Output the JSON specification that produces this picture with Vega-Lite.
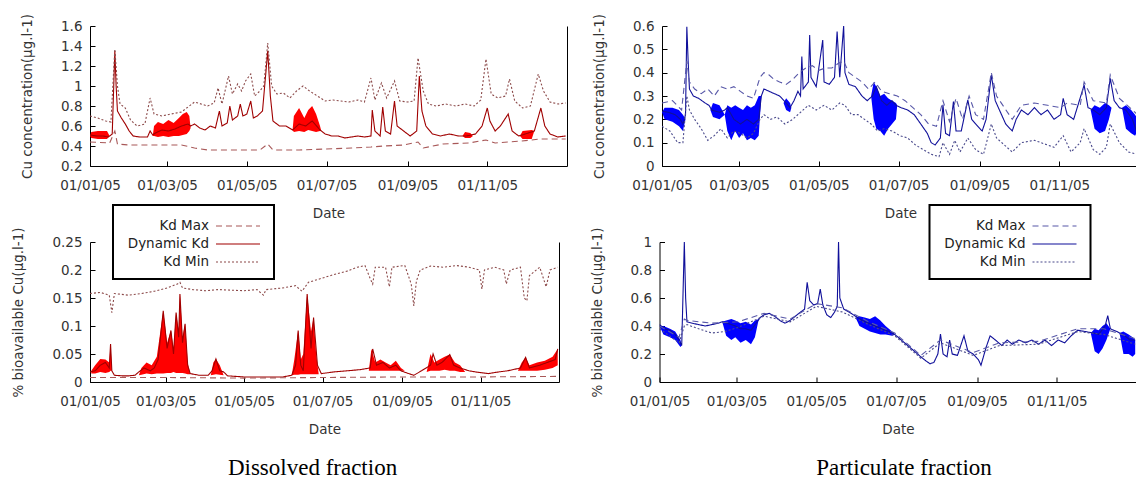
{
"$schema": "https://vega.github.io/schema/vega-lite/v6.json",
"padding": {"left": 11, "top": 13, "right": 0, "bottom": 0},
"background": "#ffffff",
"datasets": {
"tl": [
{"s":"Dynamic Kd","d":"2005-01-01","v":0.51},{"s":"Dynamic Kd","d":"2005-01-06","v":0.50},{"s":"Dynamic Kd","d":"2005-01-11","v":0.50},{"s":"Dynamic Kd","d":"2005-01-15","v":0.49},{"s":"Dynamic Kd","d":"2005-01-18","v":0.52},{"s":"Dynamic Kd","d":"2005-01-20","v":1.35},{"s":"Dynamic Kd","d":"2005-01-21","v":1.0},{"s":"Dynamic Kd","d":"2005-01-22","v":0.75},{"s":"Dynamic Kd","d":"2005-01-25","v":0.68},{"s":"Dynamic Kd","d":"2005-01-28","v":0.62},{"s":"Dynamic Kd","d":"2005-01-31","v":0.55},{"s":"Dynamic Kd","d":"2005-02-03","v":0.5},{"s":"Dynamic Kd","d":"2005-02-08","v":0.49},{"s":"Dynamic Kd","d":"2005-02-14","v":0.49},{"s":"Dynamic Kd","d":"2005-02-16","v":0.55},{"s":"Dynamic Kd","d":"2005-02-18","v":0.51},{"s":"Dynamic Kd","d":"2005-02-20","v":0.53},{"s":"Dynamic Kd","d":"2005-02-25","v":0.56},{"s":"Dynamic Kd","d":"2005-03-02","v":0.55},{"s":"Dynamic Kd","d":"2005-03-07","v":0.57},{"s":"Dynamic Kd","d":"2005-03-12","v":0.6},{"s":"Dynamic Kd","d":"2005-03-17","v":0.62},{"s":"Dynamic Kd","d":"2005-03-19","v":0.6},{"s":"Dynamic Kd","d":"2005-03-22","v":0.62},{"s":"Dynamic Kd","d":"2005-03-26","v":0.58},{"s":"Dynamic Kd","d":"2005-03-30","v":0.56},{"s":"Dynamic Kd","d":"2005-04-03","v":0.6},{"s":"Dynamic Kd","d":"2005-04-07","v":0.58},{"s":"Dynamic Kd","d":"2005-04-10","v":0.75},{"s":"Dynamic Kd","d":"2005-04-12","v":0.6},{"s":"Dynamic Kd","d":"2005-04-16","v":0.63},{"s":"Dynamic Kd","d":"2005-04-18","v":0.8},{"s":"Dynamic Kd","d":"2005-04-20","v":0.66},{"s":"Dynamic Kd","d":"2005-04-24","v":0.7},{"s":"Dynamic Kd","d":"2005-04-26","v":0.82},{"s":"Dynamic Kd","d":"2005-04-28","v":0.7},{"s":"Dynamic Kd","d":"2005-05-01","v":0.72},{"s":"Dynamic Kd","d":"2005-05-04","v":0.85},{"s":"Dynamic Kd","d":"2005-05-06","v":0.68},{"s":"Dynamic Kd","d":"2005-05-09","v":0.7},{"s":"Dynamic Kd","d":"2005-05-13","v":0.75},{"s":"Dynamic Kd","d":"2005-05-17","v":1.35},{"s":"Dynamic Kd","d":"2005-05-19","v":0.9},{"s":"Dynamic Kd","d":"2005-05-21","v":0.65},{"s":"Dynamic Kd","d":"2005-05-26","v":0.6},{"s":"Dynamic Kd","d":"2005-05-31","v":0.6},{"s":"Dynamic Kd","d":"2005-06-05","v":0.56},{"s":"Dynamic Kd","d":"2005-06-10","v":0.62},{"s":"Dynamic Kd","d":"2005-06-15","v":0.6},{"s":"Dynamic Kd","d":"2005-06-20","v":0.65},{"s":"Dynamic Kd","d":"2005-06-26","v":0.56},{"s":"Dynamic Kd","d":"2005-06-30","v":0.52},{"s":"Dynamic Kd","d":"2005-07-05","v":0.5},{"s":"Dynamic Kd","d":"2005-07-10","v":0.5},{"s":"Dynamic Kd","d":"2005-07-15","v":0.48},{"s":"Dynamic Kd","d":"2005-07-20","v":0.49},{"s":"Dynamic Kd","d":"2005-07-25","v":0.5},{"s":"Dynamic Kd","d":"2005-07-30","v":0.49},{"s":"Dynamic Kd","d":"2005-08-04","v":0.5},{"s":"Dynamic Kd","d":"2005-08-05","v":0.76},{"s":"Dynamic Kd","d":"2005-08-07","v":0.55},{"s":"Dynamic Kd","d":"2005-08-11","v":0.5},{"s":"Dynamic Kd","d":"2005-08-13","v":0.79},{"s":"Dynamic Kd","d":"2005-08-15","v":0.55},{"s":"Dynamic Kd","d":"2005-08-19","v":0.52},{"s":"Dynamic Kd","d":"2005-08-22","v":0.85},{"s":"Dynamic Kd","d":"2005-08-24","v":0.6},{"s":"Dynamic Kd","d":"2005-08-29","v":0.55},{"s":"Dynamic Kd","d":"2005-09-03","v":0.5},{"s":"Dynamic Kd","d":"2005-09-08","v":0.55},{"s":"Dynamic Kd","d":"2005-09-10","v":1.1},{"s":"Dynamic Kd","d":"2005-09-12","v":0.75},{"s":"Dynamic Kd","d":"2005-09-15","v":0.6},{"s":"Dynamic Kd","d":"2005-09-20","v":0.52},{"s":"Dynamic Kd","d":"2005-09-26","v":0.5},{"s":"Dynamic Kd","d":"2005-10-03","v":0.52},{"s":"Dynamic Kd","d":"2005-10-10","v":0.5},{"s":"Dynamic Kd","d":"2005-10-16","v":0.5},{"s":"Dynamic Kd","d":"2005-10-23","v":0.52},{"s":"Dynamic Kd","d":"2005-10-28","v":0.6},{"s":"Dynamic Kd","d":"2005-11-01","v":0.78},{"s":"Dynamic Kd","d":"2005-11-03","v":0.65},{"s":"Dynamic Kd","d":"2005-11-07","v":0.55},{"s":"Dynamic Kd","d":"2005-11-11","v":0.6},{"s":"Dynamic Kd","d":"2005-11-17","v":0.72},{"s":"Dynamic Kd","d":"2005-11-20","v":0.55},{"s":"Dynamic Kd","d":"2005-11-25","v":0.5},{"s":"Dynamic Kd","d":"2005-11-30","v":0.52},{"s":"Dynamic Kd","d":"2005-12-07","v":0.55},{"s":"Dynamic Kd","d":"2005-12-12","v":0.78},{"s":"Dynamic Kd","d":"2005-12-15","v":0.6},{"s":"Dynamic Kd","d":"2005-12-19","v":0.52},{"s":"Dynamic Kd","d":"2005-12-25","v":0.49},{"s":"Dynamic Kd","d":"2005-12-31","v":0.5},
{"s":"Kd Min","d":"2005-01-01","v":0.7},{"s":"Kd Min","d":"2005-01-07","v":0.68},{"s":"Kd Min","d":"2005-01-13","v":0.65},{"s":"Kd Min","d":"2005-01-17","v":0.64},{"s":"Kd Min","d":"2005-01-20","v":1.37},{"s":"Kd Min","d":"2005-01-22","v":1.0},{"s":"Kd Min","d":"2005-01-24","v":0.82},{"s":"Kd Min","d":"2005-01-28","v":0.78},{"s":"Kd Min","d":"2005-02-01","v":0.66},{"s":"Kd Min","d":"2005-02-06","v":0.6},{"s":"Kd Min","d":"2005-02-12","v":0.62},{"s":"Kd Min","d":"2005-02-16","v":0.88},{"s":"Kd Min","d":"2005-02-19","v":0.72},{"s":"Kd Min","d":"2005-02-25","v":0.7},{"s":"Kd Min","d":"2005-03-04","v":0.72},{"s":"Kd Min","d":"2005-03-12","v":0.74},{"s":"Kd Min","d":"2005-03-18","v":0.8},{"s":"Kd Min","d":"2005-03-22","v":0.84},{"s":"Kd Min","d":"2005-03-27","v":0.82},{"s":"Kd Min","d":"2005-04-01","v":0.8},{"s":"Kd Min","d":"2005-04-06","v":0.83},{"s":"Kd Min","d":"2005-04-09","v":0.98},{"s":"Kd Min","d":"2005-04-12","v":0.82},{"s":"Kd Min","d":"2005-04-17","v":1.1},{"s":"Kd Min","d":"2005-04-20","v":0.92},{"s":"Kd Min","d":"2005-04-24","v":1.02},{"s":"Kd Min","d":"2005-04-27","v":0.95},{"s":"Kd Min","d":"2005-04-30","v":1.05},{"s":"Kd Min","d":"2005-05-04","v":1.12},{"s":"Kd Min","d":"2005-05-07","v":0.9},{"s":"Kd Min","d":"2005-05-11","v":0.95},{"s":"Kd Min","d":"2005-05-14","v":1.0},{"s":"Kd Min","d":"2005-05-17","v":1.43},{"s":"Kd Min","d":"2005-05-20","v":1.0},{"s":"Kd Min","d":"2005-05-24","v":0.92},{"s":"Kd Min","d":"2005-05-29","v":0.93},{"s":"Kd Min","d":"2005-06-03","v":0.88},{"s":"Kd Min","d":"2005-06-08","v":0.95},{"s":"Kd Min","d":"2005-06-13","v":1.0},{"s":"Kd Min","d":"2005-06-18","v":0.95},{"s":"Kd Min","d":"2005-06-24","v":0.9},{"s":"Kd Min","d":"2005-06-30","v":0.85},{"s":"Kd Min","d":"2005-07-06","v":0.86},{"s":"Kd Min","d":"2005-07-12","v":0.85},{"s":"Kd Min","d":"2005-07-18","v":0.84},{"s":"Kd Min","d":"2005-07-25","v":0.86},{"s":"Kd Min","d":"2005-07-30","v":0.84},{"s":"Kd Min","d":"2005-08-04","v":1.08},{"s":"Kd Min","d":"2005-08-07","v":0.86},{"s":"Kd Min","d":"2005-08-12","v":1.03},{"s":"Kd Min","d":"2005-08-16","v":0.88},{"s":"Kd Min","d":"2005-08-22","v":1.05},{"s":"Kd Min","d":"2005-08-26","v":0.85},{"s":"Kd Min","d":"2005-09-01","v":0.84},{"s":"Kd Min","d":"2005-09-06","v":0.85},{"s":"Kd Min","d":"2005-09-09","v":1.28},{"s":"Kd Min","d":"2005-09-13","v":0.95},{"s":"Kd Min","d":"2005-09-17","v":0.82},{"s":"Kd Min","d":"2005-09-23","v":0.8},{"s":"Kd Min","d":"2005-09-30","v":0.82},{"s":"Kd Min","d":"2005-10-08","v":0.8},{"s":"Kd Min","d":"2005-10-15","v":0.82},{"s":"Kd Min","d":"2005-10-22","v":0.8},{"s":"Kd Min","d":"2005-10-27","v":0.86},{"s":"Kd Min","d":"2005-10-31","v":1.27},{"s":"Kd Min","d":"2005-11-04","v":0.92},{"s":"Kd Min","d":"2005-11-09","v":0.88},{"s":"Kd Min","d":"2005-11-15","v":0.9},{"s":"Kd Min","d":"2005-11-18","v":1.07},{"s":"Kd Min","d":"2005-11-22","v":0.85},{"s":"Kd Min","d":"2005-11-28","v":0.78},{"s":"Kd Min","d":"2005-12-04","v":0.8},{"s":"Kd Min","d":"2005-12-10","v":1.12},{"s":"Kd Min","d":"2005-12-14","v":0.95},{"s":"Kd Min","d":"2005-12-19","v":0.84},{"s":"Kd Min","d":"2005-12-25","v":0.82},{"s":"Kd Min","d":"2005-12-31","v":0.83},
{"s":"Kd Max","d":"2005-01-01","v":0.44},{"s":"Kd Max","d":"2005-01-16","v":0.43},{"s":"Kd Max","d":"2005-01-20","v":0.55},{"s":"Kd Max","d":"2005-01-22","v":0.42},{"s":"Kd Max","d":"2005-01-31","v":0.41},{"s":"Kd Max","d":"2005-02-20","v":0.41},{"s":"Kd Max","d":"2005-03-12","v":0.41},{"s":"Kd Max","d":"2005-03-22","v":0.38},{"s":"Kd Max","d":"2005-04-01","v":0.36},{"s":"Kd Max","d":"2005-04-21","v":0.36},{"s":"Kd Max","d":"2005-05-11","v":0.36},{"s":"Kd Max","d":"2005-05-17","v":0.42},{"s":"Kd Max","d":"2005-05-21","v":0.36},{"s":"Kd Max","d":"2005-06-10","v":0.36},{"s":"Kd Max","d":"2005-06-30","v":0.37},{"s":"Kd Max","d":"2005-07-20","v":0.38},{"s":"Kd Max","d":"2005-08-04","v":0.39},{"s":"Kd Max","d":"2005-08-14","v":0.4},{"s":"Kd Max","d":"2005-08-29","v":0.41},{"s":"Kd Max","d":"2005-09-09","v":0.44},{"s":"Kd Max","d":"2005-09-13","v":0.38},{"s":"Kd Max","d":"2005-09-28","v":0.42},{"s":"Kd Max","d":"2005-10-18","v":0.43},{"s":"Kd Max","d":"2005-10-31","v":0.46},{"s":"Kd Max","d":"2005-11-07","v":0.43},{"s":"Kd Max","d":"2005-11-27","v":0.45},{"s":"Kd Max","d":"2005-12-12","v":0.47},{"s":"Kd Max","d":"2005-12-31","v":0.47}
],
"tlb": [
{"d":"2005-01-01","lo":0.5,"hi":0.5},{"d":"2005-01-02","lo":0.48,"hi":0.54},{"d":"2005-01-07","lo":0.47,"hi":0.55},{"d":"2005-01-14","lo":0.47,"hi":0.55},{"d":"2005-01-16","lo":0.5,"hi":0.5},{"d":"2005-02-18","lo":0.5,"hi":0.5},{"d":"2005-02-19","lo":0.5,"hi":0.6},{"d":"2005-02-22","lo":0.49,"hi":0.64},{"d":"2005-02-26","lo":0.5,"hi":0.62},{"d":"2005-03-02","lo":0.49,"hi":0.66},{"d":"2005-03-06","lo":0.5,"hi":0.63},{"d":"2005-03-10","lo":0.5,"hi":0.68},{"d":"2005-03-13","lo":0.51,"hi":0.72},{"d":"2005-03-16","lo":0.52,"hi":0.74},{"d":"2005-03-18","lo":0.55,"hi":0.7},{"d":"2005-03-19","lo":0.58,"hi":0.58},{"d":"2005-06-05","lo":0.56,"hi":0.56},{"d":"2005-06-06","lo":0.54,"hi":0.7},{"d":"2005-06-10","lo":0.55,"hi":0.78},{"d":"2005-06-14","lo":0.54,"hi":0.68},{"d":"2005-06-17","lo":0.56,"hi":0.76},{"d":"2005-06-20","lo":0.55,"hi":0.8},{"d":"2005-06-23","lo":0.54,"hi":0.72},{"d":"2005-06-26","lo":0.55,"hi":0.6},{"d":"2005-06-27","lo":0.55,"hi":0.55},{"d":"2005-10-13","lo":0.5,"hi":0.5},{"d":"2005-10-15","lo":0.48,"hi":0.54},{"d":"2005-10-19","lo":0.48,"hi":0.53},{"d":"2005-10-21","lo":0.5,"hi":0.5},{"d":"2005-11-26","lo":0.5,"hi":0.5},{"d":"2005-11-28","lo":0.47,"hi":0.55},{"d":"2005-12-05","lo":0.47,"hi":0.56},{"d":"2005-12-07","lo":0.55,"hi":0.55}
],
"bl": [
{"s":"Dynamic Kd","d":"2005-01-01","v":0.018},{"s":"Dynamic Kd","d":"2005-01-05","v":0.02},{"s":"Dynamic Kd","d":"2005-01-09","v":0.03},{"s":"Dynamic Kd","d":"2005-01-13","v":0.035},{"s":"Dynamic Kd","d":"2005-01-16","v":0.025},{"s":"Dynamic Kd","d":"2005-01-17","v":0.068},{"s":"Dynamic Kd","d":"2005-01-18","v":0.02},{"s":"Dynamic Kd","d":"2005-01-20","v":0.012},{"s":"Dynamic Kd","d":"2005-01-26","v":0.011},{"s":"Dynamic Kd","d":"2005-01-31","v":0.011},{"s":"Dynamic Kd","d":"2005-02-05","v":0.012},{"s":"Dynamic Kd","d":"2005-02-08","v":0.018},{"s":"Dynamic Kd","d":"2005-02-12","v":0.025},{"s":"Dynamic Kd","d":"2005-02-17","v":0.02},{"s":"Dynamic Kd","d":"2005-02-20","v":0.025},{"s":"Dynamic Kd","d":"2005-02-23","v":0.04},{"s":"Dynamic Kd","d":"2005-02-27","v":0.127},{"s":"Dynamic Kd","d":"2005-03-02","v":0.06},{"s":"Dynamic Kd","d":"2005-03-05","v":0.092},{"s":"Dynamic Kd","d":"2005-03-07","v":0.05},{"s":"Dynamic Kd","d":"2005-03-09","v":0.124},{"s":"Dynamic Kd","d":"2005-03-11","v":0.08},{"s":"Dynamic Kd","d":"2005-03-12","v":0.157},{"s":"Dynamic Kd","d":"2005-03-14","v":0.07},{"s":"Dynamic Kd","d":"2005-03-16","v":0.104},{"s":"Dynamic Kd","d":"2005-03-18","v":0.03},{"s":"Dynamic Kd","d":"2005-03-20","v":0.015},{"s":"Dynamic Kd","d":"2005-03-27","v":0.012},{"s":"Dynamic Kd","d":"2005-04-03","v":0.012},{"s":"Dynamic Kd","d":"2005-04-06","v":0.02},{"s":"Dynamic Kd","d":"2005-04-09","v":0.041},{"s":"Dynamic Kd","d":"2005-04-12","v":0.02},{"s":"Dynamic Kd","d":"2005-04-15","v":0.018},{"s":"Dynamic Kd","d":"2005-04-18","v":0.011},{"s":"Dynamic Kd","d":"2005-05-01","v":0.009},{"s":"Dynamic Kd","d":"2005-05-16","v":0.009},{"s":"Dynamic Kd","d":"2005-05-31","v":0.009},{"s":"Dynamic Kd","d":"2005-06-07","v":0.012},{"s":"Dynamic Kd","d":"2005-06-10","v":0.03},{"s":"Dynamic Kd","d":"2005-06-12","v":0.092},{"s":"Dynamic Kd","d":"2005-06-14","v":0.03},{"s":"Dynamic Kd","d":"2005-06-16","v":0.02},{"s":"Dynamic Kd","d":"2005-06-19","v":0.157},{"s":"Dynamic Kd","d":"2005-06-22","v":0.06},{"s":"Dynamic Kd","d":"2005-06-24","v":0.115},{"s":"Dynamic Kd","d":"2005-06-27","v":0.03},{"s":"Dynamic Kd","d":"2005-06-30","v":0.015},{"s":"Dynamic Kd","d":"2005-07-10","v":0.018},{"s":"Dynamic Kd","d":"2005-07-20","v":0.02},{"s":"Dynamic Kd","d":"2005-07-30","v":0.022},{"s":"Dynamic Kd","d":"2005-08-07","v":0.025},{"s":"Dynamic Kd","d":"2005-08-09","v":0.059},{"s":"Dynamic Kd","d":"2005-08-12","v":0.03},{"s":"Dynamic Kd","d":"2005-08-17","v":0.035},{"s":"Dynamic Kd","d":"2005-08-22","v":0.025},{"s":"Dynamic Kd","d":"2005-08-27","v":0.03},{"s":"Dynamic Kd","d":"2005-08-31","v":0.02},{"s":"Dynamic Kd","d":"2005-09-06","v":0.015},{"s":"Dynamic Kd","d":"2005-09-10","v":0.012},{"s":"Dynamic Kd","d":"2005-09-16","v":0.02},{"s":"Dynamic Kd","d":"2005-09-23","v":0.03},{"s":"Dynamic Kd","d":"2005-09-25","v":0.05},{"s":"Dynamic Kd","d":"2005-09-28","v":0.03},{"s":"Dynamic Kd","d":"2005-10-02","v":0.035},{"s":"Dynamic Kd","d":"2005-10-08","v":0.049},{"s":"Dynamic Kd","d":"2005-10-11","v":0.03},{"s":"Dynamic Kd","d":"2005-10-16","v":0.025},{"s":"Dynamic Kd","d":"2005-10-23","v":0.02},{"s":"Dynamic Kd","d":"2005-10-28","v":0.018},{"s":"Dynamic Kd","d":"2005-11-07","v":0.015},{"s":"Dynamic Kd","d":"2005-11-15","v":0.018},{"s":"Dynamic Kd","d":"2005-11-22","v":0.02},{"s":"Dynamic Kd","d":"2005-12-02","v":0.025},{"s":"Dynamic Kd","d":"2005-12-06","v":0.044},{"s":"Dynamic Kd","d":"2005-12-09","v":0.025},{"s":"Dynamic Kd","d":"2005-12-17","v":0.03},{"s":"Dynamic Kd","d":"2005-12-23","v":0.035},{"s":"Dynamic Kd","d":"2005-12-29","v":0.04},{"s":"Dynamic Kd","d":"2005-12-31","v":0.059},
{"s":"Kd Min","d":"2005-01-01","v":0.158},{"s":"Kd Min","d":"2005-01-09","v":0.16},{"s":"Kd Min","d":"2005-01-16","v":0.155},{"s":"Kd Min","d":"2005-01-18","v":0.124},{"s":"Kd Min","d":"2005-01-20","v":0.158},{"s":"Kd Min","d":"2005-01-31","v":0.155},{"s":"Kd Min","d":"2005-02-10","v":0.158},{"s":"Kd Min","d":"2005-02-20","v":0.162},{"s":"Kd Min","d":"2005-03-02","v":0.168},{"s":"Kd Min","d":"2005-03-10","v":0.175},{"s":"Kd Min","d":"2005-03-12","v":0.178},{"s":"Kd Min","d":"2005-03-14","v":0.168},{"s":"Kd Min","d":"2005-03-22","v":0.165},{"s":"Kd Min","d":"2005-04-01","v":0.163},{"s":"Kd Min","d":"2005-04-11","v":0.165},{"s":"Kd Min","d":"2005-04-21","v":0.164},{"s":"Kd Min","d":"2005-05-01","v":0.163},{"s":"Kd Min","d":"2005-05-11","v":0.165},{"s":"Kd Min","d":"2005-05-16","v":0.155},{"s":"Kd Min","d":"2005-05-18","v":0.165},{"s":"Kd Min","d":"2005-05-31","v":0.168},{"s":"Kd Min","d":"2005-06-10","v":0.172},{"s":"Kd Min","d":"2005-06-15","v":0.162},{"s":"Kd Min","d":"2005-06-20","v":0.178},{"s":"Kd Min","d":"2005-06-30","v":0.185},{"s":"Kd Min","d":"2005-07-10","v":0.192},{"s":"Kd Min","d":"2005-07-20","v":0.198},{"s":"Kd Min","d":"2005-07-28","v":0.205},{"s":"Kd Min","d":"2005-08-03","v":0.208},{"s":"Kd Min","d":"2005-08-07","v":0.185},{"s":"Kd Min","d":"2005-08-09","v":0.175},{"s":"Kd Min","d":"2005-08-11","v":0.205},{"s":"Kd Min","d":"2005-08-19","v":0.205},{"s":"Kd Min","d":"2005-08-22","v":0.17},{"s":"Kd Min","d":"2005-08-24","v":0.205},{"s":"Kd Min","d":"2005-09-03","v":0.208},{"s":"Kd Min","d":"2005-09-08","v":0.175},{"s":"Kd Min","d":"2005-09-10","v":0.136},{"s":"Kd Min","d":"2005-09-12","v":0.18},{"s":"Kd Min","d":"2005-09-15","v":0.2},{"s":"Kd Min","d":"2005-09-23","v":0.207},{"s":"Kd Min","d":"2005-10-03","v":0.205},{"s":"Kd Min","d":"2005-10-13","v":0.208},{"s":"Kd Min","d":"2005-10-23","v":0.205},{"s":"Kd Min","d":"2005-10-31","v":0.2},{"s":"Kd Min","d":"2005-11-02","v":0.166},{"s":"Kd Min","d":"2005-11-04","v":0.2},{"s":"Kd Min","d":"2005-11-12","v":0.205},{"s":"Kd Min","d":"2005-11-19","v":0.2},{"s":"Kd Min","d":"2005-11-21","v":0.175},{"s":"Kd Min","d":"2005-11-24","v":0.2},{"s":"Kd Min","d":"2005-12-02","v":0.205},{"s":"Kd Min","d":"2005-12-05","v":0.15},{"s":"Kd Min","d":"2005-12-07","v":0.145},{"s":"Kd Min","d":"2005-12-09","v":0.19},{"s":"Kd Min","d":"2005-12-17","v":0.205},{"s":"Kd Min","d":"2005-12-22","v":0.17},{"s":"Kd Min","d":"2005-12-25","v":0.2},{"s":"Kd Min","d":"2005-12-31","v":0.205},
{"s":"Kd Max","d":"2005-01-01","v":0.008},{"s":"Kd Max","d":"2005-03-02","v":0.008},{"s":"Kd Max","d":"2005-05-01","v":0.007},{"s":"Kd Max","d":"2005-06-30","v":0.008},{"s":"Kd Max","d":"2005-08-29","v":0.009},{"s":"Kd Max","d":"2005-10-28","v":0.009},{"s":"Kd Max","d":"2005-12-31","v":0.01}
],
"blb": [
{"d":"2005-01-02","lo":0.015,"hi":0.02},{"d":"2005-01-05","lo":0.015,"hi":0.03},{"d":"2005-01-09","lo":0.018,"hi":0.041},{"d":"2005-01-13","lo":0.016,"hi":0.04},{"d":"2005-01-16","lo":0.018,"hi":0.035},{"d":"2005-01-17","lo":0.02,"hi":0.068},{"d":"2005-01-18","lo":0.02,"hi":0.02},
{"d":"2005-02-08","lo":0.012,"hi":0.012},{"d":"2005-02-10","lo":0.013,"hi":0.025},{"d":"2005-02-14","lo":0.015,"hi":0.035},{"d":"2005-02-18","lo":0.014,"hi":0.03},{"d":"2005-02-22","lo":0.015,"hi":0.045},{"d":"2005-02-27","lo":0.015,"hi":0.127},{"d":"2005-03-02","lo":0.016,"hi":0.07},{"d":"2005-03-05","lo":0.016,"hi":0.092},{"d":"2005-03-07","lo":0.018,"hi":0.06},{"d":"2005-03-09","lo":0.016,"hi":0.124},{"d":"2005-03-11","lo":0.016,"hi":0.09},{"d":"2005-03-12","lo":0.016,"hi":0.157},{"d":"2005-03-14","lo":0.016,"hi":0.08},{"d":"2005-03-16","lo":0.015,"hi":0.104},{"d":"2005-03-18","lo":0.014,"hi":0.035},{"d":"2005-03-20","lo":0.014,"hi":0.014},
{"d":"2005-04-05","lo":0.012,"hi":0.012},{"d":"2005-04-07","lo":0.013,"hi":0.035},{"d":"2005-04-09","lo":0.014,"hi":0.041},{"d":"2005-04-12","lo":0.013,"hi":0.03},{"d":"2005-04-15","lo":0.012,"hi":0.012},
{"d":"2005-06-07","lo":0.012,"hi":0.012},{"d":"2005-06-09","lo":0.013,"hi":0.04},{"d":"2005-06-12","lo":0.013,"hi":0.092},{"d":"2005-06-14","lo":0.014,"hi":0.04},{"d":"2005-06-16","lo":0.014,"hi":0.05},{"d":"2005-06-19","lo":0.014,"hi":0.157},{"d":"2005-06-22","lo":0.014,"hi":0.09},{"d":"2005-06-24","lo":0.014,"hi":0.115},{"d":"2005-06-26","lo":0.014,"hi":0.05},{"d":"2005-06-28","lo":0.014,"hi":0.014},
{"d":"2005-08-06","lo":0.02,"hi":0.02},{"d":"2005-08-08","lo":0.02,"hi":0.059},{"d":"2005-08-11","lo":0.02,"hi":0.035},{"d":"2005-08-15","lo":0.02,"hi":0.04},{"d":"2005-08-19","lo":0.02,"hi":0.035},{"d":"2005-08-23","lo":0.02,"hi":0.03},{"d":"2005-08-27","lo":0.02,"hi":0.038},{"d":"2005-08-31","lo":0.02,"hi":0.025},{"d":"2005-09-03","lo":0.02,"hi":0.02},
{"d":"2005-09-20","lo":0.018,"hi":0.018},{"d":"2005-09-23","lo":0.02,"hi":0.05},{"d":"2005-09-26","lo":0.02,"hi":0.035},{"d":"2005-09-30","lo":0.02,"hi":0.04},{"d":"2005-10-04","lo":0.022,"hi":0.045},{"d":"2005-10-08","lo":0.02,"hi":0.049},{"d":"2005-10-12","lo":0.02,"hi":0.035},{"d":"2005-10-16","lo":0.018,"hi":0.03},{"d":"2005-10-20","lo":0.018,"hi":0.018},
{"d":"2005-11-30","lo":0.02,"hi":0.02},{"d":"2005-12-03","lo":0.02,"hi":0.035},{"d":"2005-12-06","lo":0.02,"hi":0.044},{"d":"2005-12-09","lo":0.02,"hi":0.03},{"d":"2005-12-15","lo":0.02,"hi":0.035},{"d":"2005-12-21","lo":0.022,"hi":0.038},{"d":"2005-12-27","lo":0.025,"hi":0.045},{"d":"2005-12-31","lo":0.03,"hi":0.059}
],
"tr": [
{"s":"Dynamic Kd","d":"2005-01-01","v":0.235},{"s":"Dynamic Kd","d":"2005-01-06","v":0.23},{"s":"Dynamic Kd","d":"2005-01-11","v":0.22},{"s":"Dynamic Kd","d":"2005-01-15","v":0.2},{"s":"Dynamic Kd","d":"2005-01-17","v":0.18},{"s":"Dynamic Kd","d":"2005-01-19","v":0.22},{"s":"Dynamic Kd","d":"2005-01-20","v":0.597},{"s":"Dynamic Kd","d":"2005-01-21","v":0.45},{"s":"Dynamic Kd","d":"2005-01-22","v":0.33},{"s":"Dynamic Kd","d":"2005-01-25","v":0.3},{"s":"Dynamic Kd","d":"2005-01-29","v":0.29},{"s":"Dynamic Kd","d":"2005-02-03","v":0.27},{"s":"Dynamic Kd","d":"2005-02-06","v":0.26},{"s":"Dynamic Kd","d":"2005-02-08","v":0.24},{"s":"Dynamic Kd","d":"2005-02-14","v":0.23},{"s":"Dynamic Kd","d":"2005-02-18","v":0.24},{"s":"Dynamic Kd","d":"2005-02-20","v":0.25},{"s":"Dynamic Kd","d":"2005-02-25","v":0.2},{"s":"Dynamic Kd","d":"2005-03-02","v":0.18},{"s":"Dynamic Kd","d":"2005-03-07","v":0.2},{"s":"Dynamic Kd","d":"2005-03-12","v":0.18},{"s":"Dynamic Kd","d":"2005-03-16","v":0.2},{"s":"Dynamic Kd","d":"2005-03-18","v":0.3},{"s":"Dynamic Kd","d":"2005-03-20","v":0.33},{"s":"Dynamic Kd","d":"2005-03-24","v":0.32},{"s":"Dynamic Kd","d":"2005-03-28","v":0.31},{"s":"Dynamic Kd","d":"2005-04-01","v":0.3},{"s":"Dynamic Kd","d":"2005-04-06","v":0.27},{"s":"Dynamic Kd","d":"2005-04-09","v":0.25},{"s":"Dynamic Kd","d":"2005-04-12","v":0.28},{"s":"Dynamic Kd","d":"2005-04-15","v":0.32},{"s":"Dynamic Kd","d":"2005-04-17","v":0.3},{"s":"Dynamic Kd","d":"2005-04-18","v":0.469},{"s":"Dynamic Kd","d":"2005-04-19","v":0.33},{"s":"Dynamic Kd","d":"2005-04-23","v":0.36},{"s":"Dynamic Kd","d":"2005-04-24","v":0.561},{"s":"Dynamic Kd","d":"2005-04-25","v":0.38},{"s":"Dynamic Kd","d":"2005-04-29","v":0.34},{"s":"Dynamic Kd","d":"2005-05-04","v":0.54},{"s":"Dynamic Kd","d":"2005-05-05","v":0.36},{"s":"Dynamic Kd","d":"2005-05-09","v":0.35},{"s":"Dynamic Kd","d":"2005-05-13","v":0.38},{"s":"Dynamic Kd","d":"2005-05-15","v":0.576},{"s":"Dynamic Kd","d":"2005-05-17","v":0.38},{"s":"Dynamic Kd","d":"2005-05-20","v":0.6},{"s":"Dynamic Kd","d":"2005-05-21","v":0.4},{"s":"Dynamic Kd","d":"2005-05-24","v":0.35},{"s":"Dynamic Kd","d":"2005-05-29","v":0.34},{"s":"Dynamic Kd","d":"2005-06-03","v":0.3},{"s":"Dynamic Kd","d":"2005-06-07","v":0.28},{"s":"Dynamic Kd","d":"2005-06-11","v":0.3},{"s":"Dynamic Kd","d":"2005-06-14","v":0.34},{"s":"Dynamic Kd","d":"2005-06-18","v":0.28},{"s":"Dynamic Kd","d":"2005-06-22","v":0.26},{"s":"Dynamic Kd","d":"2005-06-26","v":0.28},{"s":"Dynamic Kd","d":"2005-06-29","v":0.26},{"s":"Dynamic Kd","d":"2005-07-03","v":0.25},{"s":"Dynamic Kd","d":"2005-07-08","v":0.24},{"s":"Dynamic Kd","d":"2005-07-13","v":0.22},{"s":"Dynamic Kd","d":"2005-07-18","v":0.18},{"s":"Dynamic Kd","d":"2005-07-23","v":0.14},{"s":"Dynamic Kd","d":"2005-07-26","v":0.1},{"s":"Dynamic Kd","d":"2005-07-29","v":0.09},{"s":"Dynamic Kd","d":"2005-08-02","v":0.12},{"s":"Dynamic Kd","d":"2005-08-04","v":0.262},{"s":"Dynamic Kd","d":"2005-08-06","v":0.14},{"s":"Dynamic Kd","d":"2005-08-09","v":0.13},{"s":"Dynamic Kd","d":"2005-08-12","v":0.276},{"s":"Dynamic Kd","d":"2005-08-14","v":0.15},{"s":"Dynamic Kd","d":"2005-08-18","v":0.15},{"s":"Dynamic Kd","d":"2005-08-23","v":0.283},{"s":"Dynamic Kd","d":"2005-08-26","v":0.2},{"s":"Dynamic Kd","d":"2005-08-29","v":0.18},{"s":"Dynamic Kd","d":"2005-09-03","v":0.15},{"s":"Dynamic Kd","d":"2005-09-06","v":0.2},{"s":"Dynamic Kd","d":"2005-09-10","v":0.39},{"s":"Dynamic Kd","d":"2005-09-13","v":0.28},{"s":"Dynamic Kd","d":"2005-09-17","v":0.23},{"s":"Dynamic Kd","d":"2005-09-21","v":0.18},{"s":"Dynamic Kd","d":"2005-09-26","v":0.15},{"s":"Dynamic Kd","d":"2005-09-29","v":0.2},{"s":"Dynamic Kd","d":"2005-10-03","v":0.24},{"s":"Dynamic Kd","d":"2005-10-08","v":0.22},{"s":"Dynamic Kd","d":"2005-10-13","v":0.25},{"s":"Dynamic Kd","d":"2005-10-18","v":0.22},{"s":"Dynamic Kd","d":"2005-10-23","v":0.24},{"s":"Dynamic Kd","d":"2005-10-28","v":0.2},{"s":"Dynamic Kd","d":"2005-11-02","v":0.22},{"s":"Dynamic Kd","d":"2005-11-04","v":0.29},{"s":"Dynamic Kd","d":"2005-11-07","v":0.22},{"s":"Dynamic Kd","d":"2005-11-12","v":0.2},{"s":"Dynamic Kd","d":"2005-11-20","v":0.347},{"s":"Dynamic Kd","d":"2005-11-23","v":0.25},{"s":"Dynamic Kd","d":"2005-11-27","v":0.24},{"s":"Dynamic Kd","d":"2005-12-02","v":0.22},{"s":"Dynamic Kd","d":"2005-12-07","v":0.25},{"s":"Dynamic Kd","d":"2005-12-10","v":0.376},{"s":"Dynamic Kd","d":"2005-12-13","v":0.28},{"s":"Dynamic Kd","d":"2005-12-17","v":0.25},{"s":"Dynamic Kd","d":"2005-12-22","v":0.24},{"s":"Dynamic Kd","d":"2005-12-27","v":0.2},{"s":"Dynamic Kd","d":"2005-12-30","v":0.15},{"s":"Dynamic Kd","d":"2005-12-31","v":0.2},
{"s":"Kd Max","d":"2005-01-01","v":0.27},{"s":"Kd Max","d":"2005-01-09","v":0.28},{"s":"Kd Max","d":"2005-01-16","v":0.24},{"s":"Kd Max","d":"2005-01-20","v":0.45},{"s":"Kd Max","d":"2005-01-22","v":0.36},{"s":"Kd Max","d":"2005-01-26","v":0.33},{"s":"Kd Max","d":"2005-01-31","v":0.31},{"s":"Kd Max","d":"2005-02-05","v":0.33},{"s":"Kd Max","d":"2005-02-10","v":0.3},{"s":"Kd Max","d":"2005-02-15","v":0.34},{"s":"Kd Max","d":"2005-02-20","v":0.33},{"s":"Kd Max","d":"2005-02-25","v":0.34},{"s":"Kd Max","d":"2005-03-02","v":0.32},{"s":"Kd Max","d":"2005-03-07","v":0.3},{"s":"Kd Max","d":"2005-03-12","v":0.29},{"s":"Kd Max","d":"2005-03-17","v":0.38},{"s":"Kd Max","d":"2005-03-20","v":0.4},{"s":"Kd Max","d":"2005-03-24","v":0.39},{"s":"Kd Max","d":"2005-03-28","v":0.37},{"s":"Kd Max","d":"2005-04-01","v":0.36},{"s":"Kd Max","d":"2005-04-06","v":0.35},{"s":"Kd Max","d":"2005-04-11","v":0.37},{"s":"Kd Max","d":"2005-04-16","v":0.4},{"s":"Kd Max","d":"2005-04-21","v":0.42},{"s":"Kd Max","d":"2005-04-26","v":0.43},{"s":"Kd Max","d":"2005-05-01","v":0.41},{"s":"Kd Max","d":"2005-05-06","v":0.42},{"s":"Kd Max","d":"2005-05-11","v":0.42},{"s":"Kd Max","d":"2005-05-16","v":0.44},{"s":"Kd Max","d":"2005-05-20","v":0.45},{"s":"Kd Max","d":"2005-05-24","v":0.4},{"s":"Kd Max","d":"2005-05-29","v":0.38},{"s":"Kd Max","d":"2005-06-03","v":0.36},{"s":"Kd Max","d":"2005-06-08","v":0.33},{"s":"Kd Max","d":"2005-06-13","v":0.36},{"s":"Kd Max","d":"2005-06-18","v":0.32},{"s":"Kd Max","d":"2005-06-24","v":0.31},{"s":"Kd Max","d":"2005-06-30","v":0.3},{"s":"Kd Max","d":"2005-07-06","v":0.28},{"s":"Kd Max","d":"2005-07-12","v":0.25},{"s":"Kd Max","d":"2005-07-18","v":0.22},{"s":"Kd Max","d":"2005-07-24","v":0.18},{"s":"Kd Max","d":"2005-07-30","v":0.17},{"s":"Kd Max","d":"2005-08-04","v":0.28},{"s":"Kd Max","d":"2005-08-09","v":0.19},{"s":"Kd Max","d":"2005-08-14","v":0.29},{"s":"Kd Max","d":"2005-08-19","v":0.2},{"s":"Kd Max","d":"2005-08-24","v":0.3},{"s":"Kd Max","d":"2005-08-29","v":0.22},{"s":"Kd Max","d":"2005-09-04","v":0.2},{"s":"Kd Max","d":"2005-09-10","v":0.4},{"s":"Kd Max","d":"2005-09-14","v":0.3},{"s":"Kd Max","d":"2005-09-20","v":0.25},{"s":"Kd Max","d":"2005-09-26","v":0.2},{"s":"Kd Max","d":"2005-10-03","v":0.26},{"s":"Kd Max","d":"2005-10-13","v":0.27},{"s":"Kd Max","d":"2005-10-23","v":0.26},{"s":"Kd Max","d":"2005-11-02","v":0.25},{"s":"Kd Max","d":"2005-11-07","v":0.27},{"s":"Kd Max","d":"2005-11-17","v":0.26},{"s":"Kd Max","d":"2005-11-20","v":0.36},{"s":"Kd Max","d":"2005-11-27","v":0.28},{"s":"Kd Max","d":"2005-12-07","v":0.27},{"s":"Kd Max","d":"2005-12-10","v":0.39},{"s":"Kd Max","d":"2005-12-17","v":0.29},{"s":"Kd Max","d":"2005-12-25","v":0.25},{"s":"Kd Max","d":"2005-12-31","v":0.22},
{"s":"Kd Min","d":"2005-01-01","v":0.17},{"s":"Kd Min","d":"2005-01-07","v":0.15},{"s":"Kd Min","d":"2005-01-13","v":0.1},{"s":"Kd Min","d":"2005-01-17","v":0.1},{"s":"Kd Min","d":"2005-01-20","v":0.3},{"s":"Kd Min","d":"2005-01-22","v":0.24},{"s":"Kd Min","d":"2005-01-26","v":0.2},{"s":"Kd Min","d":"2005-01-31","v":0.16},{"s":"Kd Min","d":"2005-02-05","v":0.11},{"s":"Kd Min","d":"2005-02-10","v":0.13},{"s":"Kd Min","d":"2005-02-15","v":0.16},{"s":"Kd Min","d":"2005-02-20","v":0.12},{"s":"Kd Min","d":"2005-02-25","v":0.15},{"s":"Kd Min","d":"2005-03-02","v":0.14},{"s":"Kd Min","d":"2005-03-07","v":0.12},{"s":"Kd Min","d":"2005-03-12","v":0.14},{"s":"Kd Min","d":"2005-03-17","v":0.2},{"s":"Kd Min","d":"2005-03-20","v":0.22},{"s":"Kd Min","d":"2005-03-25","v":0.2},{"s":"Kd Min","d":"2005-03-30","v":0.21},{"s":"Kd Min","d":"2005-04-05","v":0.18},{"s":"Kd Min","d":"2005-04-11","v":0.2},{"s":"Kd Min","d":"2005-04-17","v":0.23},{"s":"Kd Min","d":"2005-04-23","v":0.26},{"s":"Kd Min","d":"2005-04-29","v":0.24},{"s":"Kd Min","d":"2005-05-05","v":0.26},{"s":"Kd Min","d":"2005-05-11","v":0.24},{"s":"Kd Min","d":"2005-05-17","v":0.27},{"s":"Kd Min","d":"2005-05-21","v":0.26},{"s":"Kd Min","d":"2005-05-26","v":0.22},{"s":"Kd Min","d":"2005-05-31","v":0.22},{"s":"Kd Min","d":"2005-06-05","v":0.2},{"s":"Kd Min","d":"2005-06-10","v":0.18},{"s":"Kd Min","d":"2005-06-15","v":0.15},{"s":"Kd Min","d":"2005-06-20","v":0.16},{"s":"Kd Min","d":"2005-06-26","v":0.15},{"s":"Kd Min","d":"2005-07-02","v":0.13},{"s":"Kd Min","d":"2005-07-08","v":0.12},{"s":"Kd Min","d":"2005-07-14","v":0.09},{"s":"Kd Min","d":"2005-07-20","v":0.07},{"s":"Kd Min","d":"2005-07-26","v":0.05},{"s":"Kd Min","d":"2005-08-01","v":0.04},{"s":"Kd Min","d":"2005-08-04","v":0.1},{"s":"Kd Min","d":"2005-08-09","v":0.05},{"s":"Kd Min","d":"2005-08-13","v":0.11},{"s":"Kd Min","d":"2005-08-17","v":0.06},{"s":"Kd Min","d":"2005-08-23","v":0.12},{"s":"Kd Min","d":"2005-08-29","v":0.07},{"s":"Kd Min","d":"2005-09-04","v":0.05},{"s":"Kd Min","d":"2005-09-10","v":0.18},{"s":"Kd Min","d":"2005-09-14","v":0.12},{"s":"Kd Min","d":"2005-09-20","v":0.09},{"s":"Kd Min","d":"2005-09-26","v":0.06},{"s":"Kd Min","d":"2005-10-03","v":0.1},{"s":"Kd Min","d":"2005-10-13","v":0.11},{"s":"Kd Min","d":"2005-10-23","v":0.09},{"s":"Kd Min","d":"2005-10-28","v":0.08},{"s":"Kd Min","d":"2005-11-04","v":0.13},{"s":"Kd Min","d":"2005-11-10","v":0.06},{"s":"Kd Min","d":"2005-11-17","v":0.1},{"s":"Kd Min","d":"2005-11-20","v":0.16},{"s":"Kd Min","d":"2005-11-27","v":0.07},{"s":"Kd Min","d":"2005-12-02","v":0.05},{"s":"Kd Min","d":"2005-12-07","v":0.08},{"s":"Kd Min","d":"2005-12-10","v":0.18},{"s":"Kd Min","d":"2005-12-17","v":0.1},{"s":"Kd Min","d":"2005-12-24","v":0.06},{"s":"Kd Min","d":"2005-12-31","v":0.05}
],
"trb": [
{"d":"2005-01-01","lo":0.23,"hi":0.23},{"d":"2005-01-03","lo":0.2,"hi":0.25},{"d":"2005-01-09","lo":0.19,"hi":0.25},{"d":"2005-01-14","lo":0.17,"hi":0.24},{"d":"2005-01-17","lo":0.15,"hi":0.22},{"d":"2005-01-19","lo":0.2,"hi":0.2},
{"d":"2005-02-07","lo":0.24,"hi":0.24},{"d":"2005-02-09","lo":0.21,"hi":0.27},{"d":"2005-02-14","lo":0.2,"hi":0.26},{"d":"2005-02-18","lo":0.22,"hi":0.22},{"d":"2005-02-20","lo":0.15,"hi":0.26},{"d":"2005-02-23","lo":0.11,"hi":0.25},{"d":"2005-02-26","lo":0.15,"hi":0.26},{"d":"2005-03-01","lo":0.12,"hi":0.25},{"d":"2005-03-04","lo":0.14,"hi":0.24},{"d":"2005-03-07","lo":0.11,"hi":0.26},{"d":"2005-03-10","lo":0.12,"hi":0.25},{"d":"2005-03-13","lo":0.11,"hi":0.26},{"d":"2005-03-16","lo":0.13,"hi":0.3},{"d":"2005-03-18","lo":0.3,"hi":0.3},
{"d":"2005-04-04","lo":0.27,"hi":0.27},{"d":"2005-04-06","lo":0.24,"hi":0.29},{"d":"2005-04-09","lo":0.23,"hi":0.27},{"d":"2005-04-10","lo":0.25,"hi":0.25},
{"d":"2005-06-10","lo":0.3,"hi":0.3},{"d":"2005-06-12","lo":0.2,"hi":0.36},{"d":"2005-06-14","lo":0.16,"hi":0.34},{"d":"2005-06-17","lo":0.15,"hi":0.3},{"d":"2005-06-20","lo":0.13,"hi":0.31},{"d":"2005-06-23","lo":0.16,"hi":0.29},{"d":"2005-06-26","lo":0.18,"hi":0.28},{"d":"2005-06-29","lo":0.2,"hi":0.27},{"d":"2005-06-30","lo":0.26,"hi":0.26},
{"d":"2005-11-25","lo":0.24,"hi":0.24},{"d":"2005-11-28","lo":0.16,"hi":0.26},{"d":"2005-12-02","lo":0.14,"hi":0.25},{"d":"2005-12-06","lo":0.15,"hi":0.27},{"d":"2005-12-09","lo":0.2,"hi":0.26},{"d":"2005-12-11","lo":0.25,"hi":0.25},
{"d":"2005-12-19","lo":0.25,"hi":0.25},{"d":"2005-12-22","lo":0.16,"hi":0.26},{"d":"2005-12-26","lo":0.14,"hi":0.24},{"d":"2005-12-29","lo":0.13,"hi":0.22},{"d":"2005-12-31","lo":0.15,"hi":0.2}
],
"br": [
{"s":"Dynamic Kd","d":"2005-01-01","v":0.41},{"s":"Dynamic Kd","d":"2005-01-05","v":0.38},{"s":"Dynamic Kd","d":"2005-01-09","v":0.37},{"s":"Dynamic Kd","d":"2005-01-13","v":0.34},{"s":"Dynamic Kd","d":"2005-01-16","v":0.3},{"s":"Dynamic Kd","d":"2005-01-18","v":0.26},{"s":"Dynamic Kd","d":"2005-01-20","v":1.0},{"s":"Dynamic Kd","d":"2005-01-21","v":0.6},{"s":"Dynamic Kd","d":"2005-01-22","v":0.43},{"s":"Dynamic Kd","d":"2005-01-26","v":0.42},{"s":"Dynamic Kd","d":"2005-01-31","v":0.41},{"s":"Dynamic Kd","d":"2005-02-05","v":0.4},{"s":"Dynamic Kd","d":"2005-02-10","v":0.41},{"s":"Dynamic Kd","d":"2005-02-15","v":0.42},{"s":"Dynamic Kd","d":"2005-02-18","v":0.43},{"s":"Dynamic Kd","d":"2005-02-22","v":0.42},{"s":"Dynamic Kd","d":"2005-02-28","v":0.4},{"s":"Dynamic Kd","d":"2005-03-04","v":0.38},{"s":"Dynamic Kd","d":"2005-03-08","v":0.38},{"s":"Dynamic Kd","d":"2005-03-12","v":0.37},{"s":"Dynamic Kd","d":"2005-03-16","v":0.42},{"s":"Dynamic Kd","d":"2005-03-19","v":0.46},{"s":"Dynamic Kd","d":"2005-03-22","v":0.48},{"s":"Dynamic Kd","d":"2005-03-26","v":0.49},{"s":"Dynamic Kd","d":"2005-03-30","v":0.47},{"s":"Dynamic Kd","d":"2005-04-03","v":0.44},{"s":"Dynamic Kd","d":"2005-04-07","v":0.42},{"s":"Dynamic Kd","d":"2005-04-11","v":0.44},{"s":"Dynamic Kd","d":"2005-04-15","v":0.47},{"s":"Dynamic Kd","d":"2005-04-19","v":0.5},{"s":"Dynamic Kd","d":"2005-04-22","v":0.52},{"s":"Dynamic Kd","d":"2005-04-24","v":0.712},{"s":"Dynamic Kd","d":"2005-04-26","v":0.58},{"s":"Dynamic Kd","d":"2005-04-29","v":0.55},{"s":"Dynamic Kd","d":"2005-05-02","v":0.56},{"s":"Dynamic Kd","d":"2005-05-04","v":0.664},{"s":"Dynamic Kd","d":"2005-05-06","v":0.55},{"s":"Dynamic Kd","d":"2005-05-09","v":0.48},{"s":"Dynamic Kd","d":"2005-05-12","v":0.46},{"s":"Dynamic Kd","d":"2005-05-15","v":0.5},{"s":"Dynamic Kd","d":"2005-05-17","v":0.54},{"s":"Dynamic Kd","d":"2005-05-18","v":1.0},{"s":"Dynamic Kd","d":"2005-05-19","v":0.6},{"s":"Dynamic Kd","d":"2005-05-22","v":0.52},{"s":"Dynamic Kd","d":"2005-05-26","v":0.5},{"s":"Dynamic Kd","d":"2005-05-31","v":0.47},{"s":"Dynamic Kd","d":"2005-06-05","v":0.44},{"s":"Dynamic Kd","d":"2005-06-10","v":0.42},{"s":"Dynamic Kd","d":"2005-06-15","v":0.4},{"s":"Dynamic Kd","d":"2005-06-20","v":0.38},{"s":"Dynamic Kd","d":"2005-06-26","v":0.36},{"s":"Dynamic Kd","d":"2005-06-30","v":0.34},{"s":"Dynamic Kd","d":"2005-07-05","v":0.3},{"s":"Dynamic Kd","d":"2005-07-10","v":0.26},{"s":"Dynamic Kd","d":"2005-07-15","v":0.22},{"s":"Dynamic Kd","d":"2005-07-20","v":0.18},{"s":"Dynamic Kd","d":"2005-07-24","v":0.15},{"s":"Dynamic Kd","d":"2005-07-27","v":0.13},{"s":"Dynamic Kd","d":"2005-07-30","v":0.14},{"s":"Dynamic Kd","d":"2005-08-02","v":0.2},{"s":"Dynamic Kd","d":"2005-08-04","v":0.343},{"s":"Dynamic Kd","d":"2005-08-06","v":0.2},{"s":"Dynamic Kd","d":"2005-08-09","v":0.18},{"s":"Dynamic Kd","d":"2005-08-11","v":0.3},{"s":"Dynamic Kd","d":"2005-08-13","v":0.2},{"s":"Dynamic Kd","d":"2005-08-17","v":0.19},{"s":"Dynamic Kd","d":"2005-08-22","v":0.33},{"s":"Dynamic Kd","d":"2005-08-25","v":0.22},{"s":"Dynamic Kd","d":"2005-08-29","v":0.2},{"s":"Dynamic Kd","d":"2005-09-02","v":0.16},{"s":"Dynamic Kd","d":"2005-09-04","v":0.12},{"s":"Dynamic Kd","d":"2005-09-08","v":0.25},{"s":"Dynamic Kd","d":"2005-09-11","v":0.33},{"s":"Dynamic Kd","d":"2005-09-15","v":0.3},{"s":"Dynamic Kd","d":"2005-09-20","v":0.26},{"s":"Dynamic Kd","d":"2005-09-24","v":0.3},{"s":"Dynamic Kd","d":"2005-09-28","v":0.27},{"s":"Dynamic Kd","d":"2005-10-03","v":0.3},{"s":"Dynamic Kd","d":"2005-10-08","v":0.28},{"s":"Dynamic Kd","d":"2005-10-13","v":0.3},{"s":"Dynamic Kd","d":"2005-10-18","v":0.27},{"s":"Dynamic Kd","d":"2005-10-23","v":0.3},{"s":"Dynamic Kd","d":"2005-10-28","v":0.26},{"s":"Dynamic Kd","d":"2005-11-02","v":0.3},{"s":"Dynamic Kd","d":"2005-11-07","v":0.28},{"s":"Dynamic Kd","d":"2005-11-12","v":0.33},{"s":"Dynamic Kd","d":"2005-11-17","v":0.37},{"s":"Dynamic Kd","d":"2005-11-23","v":0.36},{"s":"Dynamic Kd","d":"2005-11-29","v":0.35},{"s":"Dynamic Kd","d":"2005-12-03","v":0.34},{"s":"Dynamic Kd","d":"2005-12-08","v":0.4},{"s":"Dynamic Kd","d":"2005-12-10","v":0.474},{"s":"Dynamic Kd","d":"2005-12-12","v":0.38},{"s":"Dynamic Kd","d":"2005-12-17","v":0.36},{"s":"Dynamic Kd","d":"2005-12-23","v":0.33},{"s":"Dynamic Kd","d":"2005-12-27","v":0.3},{"s":"Dynamic Kd","d":"2005-12-31","v":0.3},
{"s":"Kd Max","d":"2005-01-01","v":0.4},{"s":"Kd Max","d":"2005-01-16","v":0.32},{"s":"Kd Max","d":"2005-01-20","v":0.45},{"s":"Kd Max","d":"2005-01-22","v":0.44},{"s":"Kd Max","d":"2005-02-10","v":0.42},{"s":"Kd Max","d":"2005-03-02","v":0.43},{"s":"Kd Max","d":"2005-03-22","v":0.49},{"s":"Kd Max","d":"2005-04-11","v":0.45},{"s":"Kd Max","d":"2005-05-01","v":0.56},{"s":"Kd Max","d":"2005-05-21","v":0.53},{"s":"Kd Max","d":"2005-06-10","v":0.43},{"s":"Kd Max","d":"2005-06-30","v":0.35},{"s":"Kd Max","d":"2005-07-20","v":0.19},{"s":"Kd Max","d":"2005-08-04","v":0.3},{"s":"Kd Max","d":"2005-08-29","v":0.21},{"s":"Kd Max","d":"2005-09-18","v":0.28},{"s":"Kd Max","d":"2005-10-18","v":0.29},{"s":"Kd Max","d":"2005-11-17","v":0.38},{"s":"Kd Max","d":"2005-12-07","v":0.38},{"s":"Kd Max","d":"2005-12-31","v":0.31},
{"s":"Kd Min","d":"2005-01-01","v":0.38},{"s":"Kd Min","d":"2005-01-16","v":0.28},{"s":"Kd Min","d":"2005-01-20","v":0.4},{"s":"Kd Min","d":"2005-01-22","v":0.41},{"s":"Kd Min","d":"2005-01-31","v":0.38},{"s":"Kd Min","d":"2005-02-10","v":0.35},{"s":"Kd Min","d":"2005-02-20","v":0.36},{"s":"Kd Min","d":"2005-03-02","v":0.39},{"s":"Kd Min","d":"2005-03-22","v":0.47},{"s":"Kd Min","d":"2005-04-11","v":0.43},{"s":"Kd Min","d":"2005-05-01","v":0.54},{"s":"Kd Min","d":"2005-05-21","v":0.5},{"s":"Kd Min","d":"2005-06-10","v":0.41},{"s":"Kd Min","d":"2005-06-30","v":0.33},{"s":"Kd Min","d":"2005-07-20","v":0.17},{"s":"Kd Min","d":"2005-08-04","v":0.28},{"s":"Kd Min","d":"2005-08-29","v":0.19},{"s":"Kd Min","d":"2005-09-18","v":0.26},{"s":"Kd Min","d":"2005-10-18","v":0.27},{"s":"Kd Min","d":"2005-11-17","v":0.36},{"s":"Kd Min","d":"2005-12-07","v":0.34},{"s":"Kd Min","d":"2005-12-31","v":0.27}
],
"brb": [
{"d":"2005-01-01","lo":0.4,"hi":0.4},{"d":"2005-01-04","lo":0.34,"hi":0.4},{"d":"2005-01-09","lo":0.32,"hi":0.38},{"d":"2005-01-13","lo":0.3,"hi":0.36},{"d":"2005-01-17","lo":0.25,"hi":0.3},{"d":"2005-01-18","lo":0.26,"hi":0.26},
{"d":"2005-02-18","lo":0.43,"hi":0.43},{"d":"2005-02-21","lo":0.33,"hi":0.44},{"d":"2005-02-25","lo":0.3,"hi":0.45},{"d":"2005-02-28","lo":0.32,"hi":0.44},{"d":"2005-03-04","lo":0.28,"hi":0.42},{"d":"2005-03-08","lo":0.3,"hi":0.43},{"d":"2005-03-12","lo":0.27,"hi":0.41},{"d":"2005-03-15","lo":0.32,"hi":0.44},{"d":"2005-03-18","lo":0.45,"hi":0.45},
{"d":"2005-05-31","lo":0.46,"hi":0.46},{"d":"2005-06-03","lo":0.4,"hi":0.47},{"d":"2005-06-07","lo":0.38,"hi":0.46},{"d":"2005-06-11","lo":0.36,"hi":0.45},{"d":"2005-06-15","lo":0.35,"hi":0.47},{"d":"2005-06-19","lo":0.34,"hi":0.44},{"d":"2005-06-23","lo":0.34,"hi":0.4},{"d":"2005-06-28","lo":0.33,"hi":0.36},{"d":"2005-06-30","lo":0.34,"hi":0.34},
{"d":"2005-11-27","lo":0.35,"hi":0.35},{"d":"2005-11-30","lo":0.22,"hi":0.38},{"d":"2005-12-03","lo":0.2,"hi":0.37},{"d":"2005-12-06","lo":0.24,"hi":0.4},{"d":"2005-12-09","lo":0.3,"hi":0.42},{"d":"2005-12-12","lo":0.38,"hi":0.38},
{"d":"2005-12-19","lo":0.35,"hi":0.35},{"d":"2005-12-22","lo":0.2,"hi":0.36},{"d":"2005-12-26","lo":0.2,"hi":0.34},{"d":"2005-12-29","lo":0.18,"hi":0.32},{"d":"2005-12-31","lo":0.2,"hi":0.3}
]
},
"concat": [
{
"hconcat": [
{
"width": 477, "height": 140,
"resolve": {"axis": {"y": "independent"}},
"layer": [
{"data": {"name": "tlb"}, "mark": {"type": "area", "color": "#ff0000", "clip": true},
 "encoding": {
  "x": {"field": "d", "type": "temporal", "scale": {"type": "utc", "domain": [{"year": 2005, "month": 1, "date": 1, "utc": true}, {"year": 2006, "month": 1, "date": 1, "utc": true}]},
        "axis": {"title": "Date", "labelExpr": "utcFormat(datum.value, '%d/%m/%y')", "values": [{"year": 2005, "month": 1, "date": 1, "utc": true}, {"year": 2005, "month": 3, "date": 1, "utc": true}, {"year": 2005, "month": 5, "date": 1, "utc": true}, {"year": 2005, "month": 7, "date": 1, "utc": true}, {"year": 2005, "month": 9, "date": 1, "utc": true}, {"year": 2005, "month": 11, "date": 1, "utc": true}]}},
  "y": {"field": "lo", "type": "quantitative", "scale": {"domain": [0.2, 1.6]}, "axis": {"values": [0.2, 0.4, 0.6, 0.8, 1, 1.2, 1.4, 1.6], "format": ".2~f", "title": "Cu concentration(µg.l-1)"}},
  "y2": {"field": "hi"}}},
{"data": {"name": "tl"}, "mark": {"type": "line", "strokeWidth": 1.1, "clip": true},
 "encoding": {
  "x": {"field": "d", "type": "temporal", "scale": {"type": "utc", "domain": [{"year": 2005, "month": 1, "date": 1, "utc": true}, {"year": 2006, "month": 1, "date": 1, "utc": true}]}},
  "y": {"field": "v", "type": "quantitative", "scale": {"domain": [0.2, 1.6]}, "axis": null},
  "color": {"field": "s", "type": "nominal", "scale": {"domain": ["Kd Max", "Dynamic Kd", "Kd Min"], "range": ["#a85858", "#a00000", "#8c4a4a"]}, "legend": null},
  "strokeDash": {"field": "s", "type": "nominal", "scale": {"domain": ["Kd Max", "Dynamic Kd", "Kd Min"], "range": [[6, 4], [1, 0], [2, 2]]}, "legend": null}}},
{"data": {"name": "tl"}, "mark": {"type": "point", "opacity": 0},
 "encoding": {
  "x": {"field": "d", "type": "temporal", "scale": {"type": "utc", "domain": [{"year": 2005, "month": 1, "date": 1, "utc": true}, {"year": 2006, "month": 1, "date": 1, "utc": true}]}},
  "y": {"field": "v", "type": "quantitative", "scale": {"domain": [0.2, 1.6]}, "axis": {"orient": "right", "labels": false, "ticks": false, "title": null}}}}
]
},
{
"width": 477, "height": 140,
"resolve": {"axis": {"y": "independent"}},
"layer": [
{"data": {"name": "trb"}, "mark": {"type": "area", "color": "#0000ff", "clip": true},
 "encoding": {
  "x": {"field": "d", "type": "temporal", "scale": {"type": "utc", "domain": [{"year": 2005, "month": 1, "date": 1, "utc": true}, {"year": 2006, "month": 1, "date": 1, "utc": true}]},
        "axis": {"title": "Date", "labelExpr": "utcFormat(datum.value, '%d/%m/%y')", "values": [{"year": 2005, "month": 1, "date": 1, "utc": true}, {"year": 2005, "month": 3, "date": 1, "utc": true}, {"year": 2005, "month": 5, "date": 1, "utc": true}, {"year": 2005, "month": 7, "date": 1, "utc": true}, {"year": 2005, "month": 9, "date": 1, "utc": true}, {"year": 2005, "month": 11, "date": 1, "utc": true}]}},
  "y": {"field": "lo", "type": "quantitative", "scale": {"domain": [0, 0.6]}, "axis": {"values": [0, 0.1, 0.2, 0.3, 0.4, 0.5, 0.6], "format": ".2~f", "title": "Cu concentration(µg.l-1)"}},
  "y2": {"field": "hi"}}},
{"data": {"name": "tr"}, "mark": {"type": "line", "strokeWidth": 1.1, "clip": true},
 "encoding": {
  "x": {"field": "d", "type": "temporal", "scale": {"type": "utc", "domain": [{"year": 2005, "month": 1, "date": 1, "utc": true}, {"year": 2006, "month": 1, "date": 1, "utc": true}]}},
  "y": {"field": "v", "type": "quantitative", "scale": {"domain": [0, 0.6]}, "axis": null},
  "color": {"field": "s", "type": "nominal", "scale": {"domain": ["Kd Max", "Dynamic Kd", "Kd Min"], "range": ["#5858a8", "#10109a", "#4a4a8c"]}, "legend": null},
  "strokeDash": {"field": "s", "type": "nominal", "scale": {"domain": ["Kd Max", "Dynamic Kd", "Kd Min"], "range": [[6, 4], [1, 0], [2, 2]]}, "legend": null}}},
{"data": {"name": "tr"}, "mark": {"type": "point", "opacity": 0},
 "encoding": {
  "x": {"field": "d", "type": "temporal", "scale": {"type": "utc", "domain": [{"year": 2005, "month": 1, "date": 1, "utc": true}, {"year": 2006, "month": 1, "date": 1, "utc": true}]}},
  "y": {"field": "v", "type": "quantitative", "scale": {"domain": [0, 0.6]}, "axis": {"orient": "right", "labels": false, "ticks": false, "title": null}}}}
]
}
],
"spacing": 23,
"resolve": {"scale": {"x": "independent", "y": "independent", "color": "independent", "strokeDash": "independent"}, "legend": {"color": "independent", "strokeDash": "independent"}}
},
{
"hconcat": [
{
"width": 469, "height": 140,
"title": {"text": "Dissolved fraction", "orient": "bottom", "anchor": "middle", "offset": 21, "dx": -12},
"resolve": {"axis": {"y": "independent"}},
"layer": [
{"data": {"name": "blb"}, "mark": {"type": "area", "color": "#ff0000", "clip": true},
 "encoding": {
  "x": {"field": "d", "type": "temporal", "scale": {"type": "utc", "domain": [{"year": 2005, "month": 1, "date": 1, "utc": true}, {"year": 2006, "month": 1, "date": 1, "utc": true}]},
        "axis": {"title": "Date", "labelExpr": "utcFormat(datum.value, '%d/%m/%y')", "values": [{"year": 2005, "month": 1, "date": 1, "utc": true}, {"year": 2005, "month": 3, "date": 1, "utc": true}, {"year": 2005, "month": 5, "date": 1, "utc": true}, {"year": 2005, "month": 7, "date": 1, "utc": true}, {"year": 2005, "month": 9, "date": 1, "utc": true}, {"year": 2005, "month": 11, "date": 1, "utc": true}]}},
  "y": {"field": "lo", "type": "quantitative", "scale": {"domain": [0, 0.25]}, "axis": {"values": [0, 0.05, 0.1, 0.15, 0.2, 0.25], "format": ".2~f", "title": "% bioavailable Cu(µg.l-1)"}},
  "y2": {"field": "hi"}}},
{"data": {"name": "bl"}, "mark": {"type": "line", "strokeWidth": 1.1, "clip": true},
 "encoding": {
  "x": {"field": "d", "type": "temporal", "scale": {"type": "utc", "domain": [{"year": 2005, "month": 1, "date": 1, "utc": true}, {"year": 2006, "month": 1, "date": 1, "utc": true}]}},
  "y": {"field": "v", "type": "quantitative", "scale": {"domain": [0, 0.25]}, "axis": null},
  "color": {"field": "s", "type": "nominal", "scale": {"domain": ["Kd Max", "Dynamic Kd", "Kd Min"], "range": ["#a85858", "#a00000", "#8c4a4a"]},
            "legend": {"orient": "none", "legendX": 23, "legendY": -37, "title": null, "symbolType": "M-2.2,0L2.2,0", "symbolSize": 400, "symbolStrokeWidth": 2, "symbolOpacity": 0.5, "symbolOffset": 104, "labelAlign": "right", "labelOffset": -40, "strokeColor": "#000000", "fillColor": "#ffffff", "padding": 10, "rowPadding": 0}},
  "strokeDash": {"field": "s", "type": "nominal", "scale": {"domain": ["Kd Max", "Dynamic Kd", "Kd Min"], "range": [[6, 4], [1, 0], [2, 2]]},
            "legend": {"orient": "none", "legendX": 23, "legendY": -37, "title": null, "symbolType": "M-2.2,0L2.2,0", "symbolSize": 400, "symbolStrokeWidth": 2, "symbolOpacity": 0.5, "symbolOffset": 104, "labelAlign": "right", "labelOffset": -40, "strokeColor": "#000000", "fillColor": "#ffffff", "padding": 10, "rowPadding": 0}}}},
{"data": {"name": "bl"}, "mark": {"type": "point", "opacity": 0},
 "encoding": {
  "x": {"field": "d", "type": "temporal", "scale": {"type": "utc", "domain": [{"year": 2005, "month": 1, "date": 1, "utc": true}, {"year": 2006, "month": 1, "date": 1, "utc": true}]}},
  "y": {"field": "v", "type": "quantitative", "scale": {"domain": [0, 0.25]}, "axis": {"orient": "right", "labels": false, "ticks": false, "title": null}}}}
]
},
{
"width": 477, "height": 140,
"title": {"text": "Particulate fraction", "orient": "bottom", "anchor": "middle", "offset": 21, "dx": 6},
"resolve": {"axis": {"y": "independent"}},
"layer": [
{"data": {"name": "brb"}, "mark": {"type": "area", "color": "#0000ff", "clip": true},
 "encoding": {
  "x": {"field": "d", "type": "temporal", "scale": {"type": "utc", "domain": [{"year": 2005, "month": 1, "date": 1, "utc": true}, {"year": 2006, "month": 1, "date": 1, "utc": true}]},
        "axis": {"title": "Date", "labelExpr": "utcFormat(datum.value, '%d/%m/%y')", "values": [{"year": 2005, "month": 1, "date": 1, "utc": true}, {"year": 2005, "month": 3, "date": 1, "utc": true}, {"year": 2005, "month": 5, "date": 1, "utc": true}, {"year": 2005, "month": 7, "date": 1, "utc": true}, {"year": 2005, "month": 9, "date": 1, "utc": true}, {"year": 2005, "month": 11, "date": 1, "utc": true}]}},
  "y": {"field": "lo", "type": "quantitative", "scale": {"domain": [0, 1]}, "axis": {"values": [0, 0.2, 0.4, 0.6, 0.8, 1], "format": ".2~f", "title": "% bioavailable Cu(µg.l-1)"}},
  "y2": {"field": "hi"}}},
{"data": {"name": "br"}, "mark": {"type": "line", "strokeWidth": 1.1, "clip": true},
 "encoding": {
  "x": {"field": "d", "type": "temporal", "scale": {"type": "utc", "domain": [{"year": 2005, "month": 1, "date": 1, "utc": true}, {"year": 2006, "month": 1, "date": 1, "utc": true}]}},
  "y": {"field": "v", "type": "quantitative", "scale": {"domain": [0, 1]}, "axis": null},
  "color": {"field": "s", "type": "nominal", "scale": {"domain": ["Kd Max", "Dynamic Kd", "Kd Min"], "range": ["#5858a8", "#10109a", "#4a4a8c"]},
            "legend": {"orient": "none", "legendX": 270, "legendY": -37, "title": null, "symbolType": "M-2.2,0L2.2,0", "symbolSize": 400, "symbolStrokeWidth": 2, "symbolOpacity": 0.5, "symbolOffset": 104, "labelAlign": "right", "labelOffset": -40, "strokeColor": "#000000", "fillColor": "#ffffff", "padding": 10, "rowPadding": 0}},
  "strokeDash": {"field": "s", "type": "nominal", "scale": {"domain": ["Kd Max", "Dynamic Kd", "Kd Min"], "range": [[6, 4], [1, 0], [2, 2]]},
            "legend": {"orient": "none", "legendX": 270, "legendY": -37, "title": null, "symbolType": "M-2.2,0L2.2,0", "symbolSize": 400, "symbolStrokeWidth": 2, "symbolOpacity": 0.5, "symbolOffset": 104, "labelAlign": "right", "labelOffset": -40, "strokeColor": "#000000", "fillColor": "#ffffff", "padding": 10, "rowPadding": 0}}}},
{"data": {"name": "br"}, "mark": {"type": "point", "opacity": 0},
 "encoding": {
  "x": {"field": "d", "type": "temporal", "scale": {"type": "utc", "domain": [{"year": 2005, "month": 1, "date": 1, "utc": true}, {"year": 2006, "month": 1, "date": 1, "utc": true}]}},
  "y": {"field": "v", "type": "quantitative", "scale": {"domain": [0, 1]}, "axis": {"orient": "right", "labels": false, "ticks": false, "title": null}}}}
]
}
],
"spacing": 28.5,
"resolve": {"scale": {"x": "independent", "y": "independent", "color": "independent", "strokeDash": "independent"}, "legend": {"color": "independent", "strokeDash": "independent"}}
}
],
"columns": 1,
"align": "none",
"spacing": -16,
"resolve": {"scale": {"x": "independent", "y": "independent", "color": "independent", "strokeDash": "independent"}, "legend": {"color": "independent", "strokeDash": "independent"}},
"config": {
 "view": {"stroke": null},
 "axis": {"grid": false, "domainColor": "#000000", "tickColor": "#000000", "tickSize": -5, "labelFont": "DejaVu Sans", "labelFontSize": 13.5, "labelColor": "#333333", "titleFont": "DejaVu Sans", "titleFontSize": 13.5, "titleFontWeight": "normal", "titleColor": "#333333", "labelFlush": false, "labelOverlap": false},
 "axisX": {"labelPadding": 17, "titlePadding": 14.5},
 "axisY": {"labelPadding": 13, "titlePadding": 26},
 "legend": {"strokeWidth": 2, "labelFont": "DejaVu Sans", "labelFontSize": 13.5, "labelColor": "#222222"},
 "title": {"font": "Liberation Serif", "fontSize": 23, "fontWeight": "normal", "color": "#000000"}
}
}
